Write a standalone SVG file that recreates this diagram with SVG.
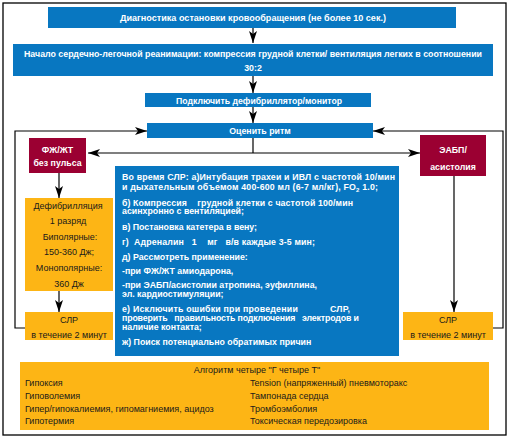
<svg xmlns="http://www.w3.org/2000/svg" width="510" height="438" viewBox="0 0 510 438">
<defs>
<style>
.blue{fill:#0877C1}
.red{fill:#9B0032}
.yel{fill:#FDB515}
.wt{fill:#fff;font-family:"Liberation Sans",Arial,sans-serif;font-weight:bold;font-size:8.8px}
.bt{fill:#1a1a1a;font-family:"Liberation Sans",Arial,sans-serif;font-size:9px}
.c{text-anchor:middle}
.ln{fill:none;stroke:#000;stroke-width:1.2}
</style>
<marker id="ah" viewBox="0 0 12 8" refX="12" refY="4" markerWidth="12" markerHeight="8" markerUnits="userSpaceOnUse" orient="auto">
<path d="M0,0 L12,4 L0,8 L3,4 z" fill="#000"/>
</marker>
</defs>
<rect x="0" y="0" width="510" height="438" fill="#fff"/>
<rect x="3" y="3" width="503" height="432" fill="none" stroke="#000" stroke-width="1.3"/>

<g id="connectors">
<path class="ln" d="M253,28 V43" marker-end="url(#ah)"/>
<path class="ln" d="M253,76 V93" marker-end="url(#ah)"/>
<path class="ln" d="M253,107 V123" marker-end="url(#ah)"/>
<path class="ln" d="M25,328 H15 V131 H147" marker-end="url(#ah)"/>
<path class="ln" d="M492,328 H503 V131 H373" marker-end="url(#ah)"/>
<path class="ln" d="M253,138 V153"/>
<path class="ln" d="M253,153 H88" marker-end="url(#ah)"/>
<path class="ln" d="M253,153 H420" marker-end="url(#ah)"/>
<path class="ln" d="M59,173 V198" marker-end="url(#ah)"/>
<path class="ln" d="M59,291 V312" marker-end="url(#ah)"/>
<path class="ln" d="M454,176 V312" marker-end="url(#ah)"/>
</g>

<g id="n1">
<rect class="blue" x="48" y="7" width="408" height="21"/>
<text class="wt" x="120" y="21" textLength="266" lengthAdjust="spacingAndGlyphs">Диагностика остановки кровообращения (не более 10 сек.)</text>
</g>
<g id="n2">
<rect class="blue" x="13" y="44" width="480" height="32"/>
<text class="wt" x="24" y="57" textLength="458" lengthAdjust="spacingAndGlyphs">Начало сердечно-легочной реанимации: компрессия грудной клетки/ вентиляция легких в соотношении</text>
<text class="wt c" x="253" y="71" font-size="9.5">30:2</text>
</g>
<g id="n3">
<rect class="blue" x="145" y="93" width="226" height="14"/>
<text class="wt" x="176" y="103.5" textLength="166" lengthAdjust="spacingAndGlyphs">Подключить дефибриллятор/монитор</text>
</g>
<g id="n4">
<rect class="blue" x="147" y="123" width="226" height="15"/>
<text class="wt c" x="260" y="134">Оценить ритм</text>
</g>
<g id="n5">
<rect class="red" x="29" y="138" width="57" height="35"/>
<text class="wt c" x="57.5" y="153" font-size="9.5">ФЖ/ЖТ</text>
<text class="wt c" x="57.5" y="166">без пульса</text>
</g>
<g id="n6">
<rect class="red" x="420" y="135" width="66" height="41"/>
<text class="wt c" x="453" y="153" font-size="9.5">ЭАБП/</text>
<text class="wt c" x="453" y="170" font-size="8">асистолия</text>
</g>
<g id="n7">
<rect class="yel" x="25" y="198" width="88" height="93"/>
<text class="bt c" x="68" y="208.5">Дефибрилляция</text>
<text class="bt c" x="68" y="224">1 разряд</text>
<text class="bt c" x="70" y="239.5">Биполярные:</text>
<text class="bt c" x="69" y="255">150-360 Дж;</text>
<text class="bt c" x="69" y="270.5">Монополярные:</text>
<text class="bt c" x="69" y="286.5">360 Дж</text>
</g>
<g id="n8">
<rect class="yel" x="25" y="312" width="88" height="28"/>
<text class="bt c" x="69" y="323">СЛР</text>
<text class="bt c" x="69" y="337.5" font-size="8.3">в течение 2 минут</text>
</g>
<g id="n9">
<rect class="yel" x="403" y="312" width="90" height="28"/>
<text class="bt c" x="448" y="323">СЛР</text>
<text class="bt c" x="448" y="337.5" font-size="8.3">в течение 2 минут</text>
</g>
<g id="n10">
<rect class="blue" x="115" y="166" width="284" height="190"/>
<g class="wt" font-size="9">
<text x="122" y="180" textLength="273" lengthAdjust="spacing">Во время СЛР: а)Интубация трахеи и ИВЛ с частотой 10/мин</text>
<text x="122" y="189.5" textLength="256" lengthAdjust="spacing">и дыхательным объемом 400-600 мл (6-7 мл/кг), FO<tspan font-size="6" dy="2">2</tspan><tspan dy="-2"> 1.0;</tspan></text>
<text x="122" y="205.5" textLength="231" lengthAdjust="spacing" xml:space="preserve">б) Компрессия    грудной клетки с частотой 100/мин</text>
<text x="122" y="214">асинхронно с вентиляцией;</text>
<text x="122" y="229.5" textLength="135" lengthAdjust="spacing">в) Постановка катетера в вену;</text>
<text x="122" y="244.5" textLength="193" lengthAdjust="spacing" xml:space="preserve">г)  Адреналин   1    мг   в/в каждые 3-5 мин;</text>
<text x="122" y="259.5">д) Рассмотреть применение:</text>
<text x="122" y="273.5">-при ФЖ/ЖТ амиодарона,</text>
<text x="122" y="288" textLength="195" lengthAdjust="spacing">-при ЭАБП/асистолии атропина, эуфиллина,</text>
<text x="122" y="297">эл. кардиостимуляции;</text>
<text x="122" y="312" textLength="228" lengthAdjust="spacing" xml:space="preserve">е) Исключить ошибки при проведении            СЛР,</text>
<text x="122" y="321" textLength="237" lengthAdjust="spacing" xml:space="preserve">проверить   правильность подключения   электродов и</text>
<text x="122" y="330">наличие контакта;</text>
<text x="122" y="345">ж) Поиск потенциально обратимых причин</text>
</g>
</g>
<g id="n11">
<rect class="yel" x="20" y="362" width="469" height="68"/>
<text class="bt c" x="257" y="372.5" font-size="10">Алгоритм четыре "Г четыре Т"</text>
<text class="bt" x="25" y="386" font-size="10">Гипоксия</text>
<text class="bt" x="25" y="398.5" font-size="10">Гиповолемия</text>
<text class="bt" x="25" y="411.5" font-size="10">Гипер/гипокалиемия, гипомагниемия, ацидоз</text>
<text class="bt" x="25" y="424" font-size="10">Гипотермия</text>
<text class="bt" x="250" y="386" font-size="10">Tension (напряженный) пневмоторакс</text>
<text class="bt" x="250" y="398.5" font-size="10">Тампонада сердца</text>
<text class="bt" x="250" y="411.5" font-size="10">Тромбоэмболия</text>
<text class="bt" x="250" y="424" font-size="10">Токсическая передозировка</text>
</g>
</svg>
